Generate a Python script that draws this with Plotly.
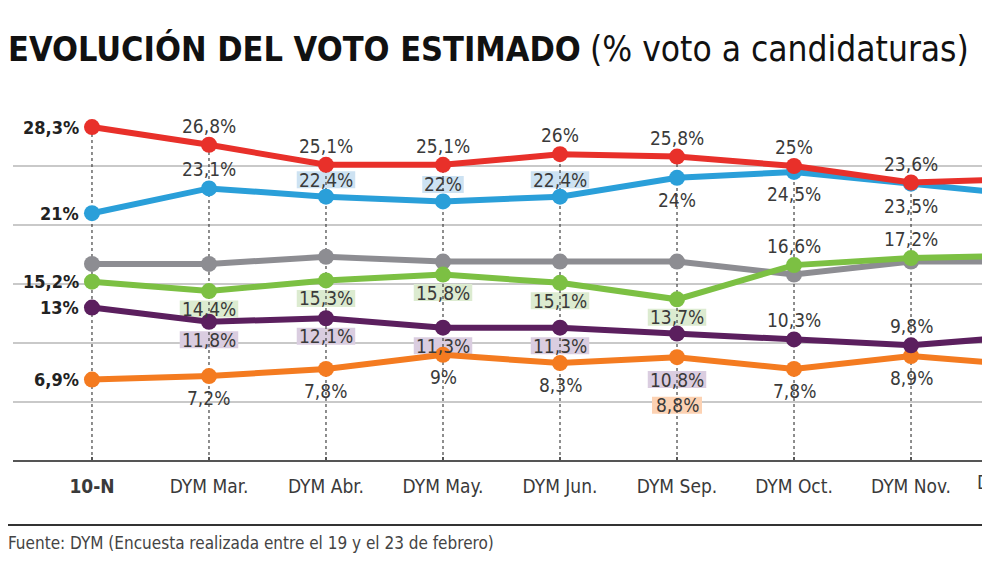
import plotly.graph_objects as go

# ---------------- data ----------------
categories = ["10-N", "DYM Mar.", "DYM Abr.", "DYM May.", "DYM Jun.",
              "DYM Sep.", "DYM Oct.", "DYM Nov.", "DYM Dic."]
red = [28.3, 26.8, 25.1, 25.1, 26.0, 25.8, 25.0, 23.6, 23.9]
blue = [21.0, 23.1, 22.4, 22.0, 22.4, 24.0, 24.5, 23.5, 22.5]
grey = [16.7, 16.7, 17.3, 16.9, 16.9, 16.9, 15.8, 16.9, 16.9]
green = [15.2, 14.4, 15.3, 15.8, 15.1, 13.7, 16.6, 17.2, 17.4]
purple = [13.0, 11.8, 12.1, 11.3, 11.3, 10.8, 10.3, 9.8, 10.6]
orange = [6.9, 7.2, 7.8, 9.0, 8.3, 8.8, 7.8, 8.9, 8.1]
y_ticks = [0, 5, 10, 15, 20, 25, 30]

# ---------------- style ----------------
OFFSET = 8                      # page body margin
W, H = 990 - OFFSET, 568 - 2 * OFFSET
R_PL, R_PR, R_PT, R_PB = 13, 990, 107, 461   # plot area, reference pixels
XR = [-0.675, 7.675]
YR = [0, 30]
FONT = "DejaVu Sans Condensed, DejaVu Sans, sans-serif"
TXT = "#3a3a3a"

series = [
    dict(name="grey", y=grey, color="#8d8d92", box=None,
         pos=["", "", "", "", "", "", "", "", ""]),
    dict(name="orange", y=orange, color="#f47b20", box="#fcd2b3",
         pos=["L", "B", "B", "B", "B", ("b", 48), "B", "B", ""]),
    dict(name="purple", y=purple, color="#5b1f5e", box="#dacde0",
         pos=["L", "b", "b", "b", "b", ("b", 46), "A", "A", ""]),
    dict(name="green", y=green, color="#7cc043", box="#dcebd0",
         pos=["L", "b", "b", "b", "b", "b", "A", "A", ""]),
    dict(name="blue", y=blue, color="#2a9fd9", box="#cde2f2",
         pos=["L", "A", "a", "a", "a", "B", "B", "B", ""]),
    dict(name="red", y=red, color="#e8302a", box=None,
         pos=["L", "A", "A", "A", "A", "A", "A", "A", ""]),
]

OFF = {"A": -19, "a": -17, "B": 22, "b": 18}


def fmt(v):
    return f"{v:g}".replace(".", ",") + "%"


def px_x(px):
    return (px - R_PL) / (R_PR - R_PL)


def px_y(py):
    return (R_PB - py) / (R_PB - R_PT)


fig = go.Figure()

# dashed vertical guides from axis to top marker of each category
all_vals = [s["y"] for s in series]
gx, gy = [], []
for i, c in enumerate(categories):
    top = max(v[i] for v in all_vals)
    gx += [i, i, None]
    gy += [0, top, None]
fig.add_trace(go.Scatter(x=gx, y=gy, mode="lines", hoverinfo="skip",
                         line=dict(color="#444", width=1.2, dash="3px,3px"),
                         showlegend=False))

idx = list(range(len(categories)))
for s in series:
    fig.add_trace(go.Scatter(
        x=idx, y=s["y"], mode="lines+markers", showlegend=False,
        line=dict(color=s["color"], width=6),
        marker=dict(color=s["color"], size=16),
        cliponaxis=True))

annotations = []
shapes = []
for s in series:
    for i, p in enumerate(s["pos"]):
        if not p:
            continue
        v = s["y"][i]
        if p == "L":
            annotations.append(dict(
                x=i, y=v, xref="x", yref="y", text="<b>" + fmt(v) + "</b>",
                showarrow=False, xanchor="right", yanchor="middle", xshift=-11,
                font=dict(family=FONT, size=18, color="#222")))
            continue
        if isinstance(p, tuple):
            kind, dy = p
        else:
            kind, dy = p, OFF[p]
        txt = fmt(v)
        annotations.append(dict(
            x=i, y=v, xref="x", yref="y", text=txt, showarrow=False,
            xanchor="center", yanchor="middle", yshift=-dy,
            font=dict(family=FONT, size=19, color=TXT)))
        if kind in ("a", "b") and s["box"]:
            w = 8.5 * len(txt) + 16
            h = 17
            shapes.append(dict(
                type="rect", xref="x", yref="y", xsizemode="pixel",
                ysizemode="pixel", xanchor=i, yanchor=v,
                x0=-w / 2, x1=w / 2, y0=-dy - h / 2, y1=-dy + h / 2,
                fillcolor=s["box"], line=dict(width=0), layer="between"))

# partial tick label for the category beyond the visible range
last = len(categories) - 1
annotations.append(dict(
    x=px_x(975), y=px_y(482), xref="paper", yref="paper",
    text=categories[last], showarrow=False, xanchor="left", yanchor="middle",
    font=dict(family=FONT, size=19, color=TXT)))

# title
annotations.append(dict(
    x=px_x(6), y=px_y(49), xref="paper", yref="paper",
    text="<b>EVOLUCIÓN DEL VOTO ESTIMADO</b>", showarrow=False,
    xanchor="left", yanchor="middle",
    font=dict(family=FONT, size=34, color="#111")))
annotations.append(dict(
    x=px_x(588), y=px_y(49), xref="paper", yref="paper",
    text="(% voto a candidaturas)", showarrow=False,
    xanchor="left", yanchor="middle",
    font=dict(family=FONT, size=35, color="#111")))

# footer
annotations.append(dict(
    x=px_x(6), y=px_y(543), xref="paper", yref="paper",
    text="Fuente: DYM (Encuesta realizada entre el 19 y el 23 de febrero)",
    showarrow=False, xanchor="left", yanchor="middle",
    font=dict(family=FONT, size=17, color="#444")))
shapes.append(dict(type="line", xref="paper", yref="paper",
                   x0=px_x(8), x1=1.0, y0=px_y(525), y1=px_y(525),
                   line=dict(color="#333", width=2)))

ticktext = ["<b>10-N</b>"] + categories[1:last]
fig.update_layout(
    width=W, height=H,
    margin=dict(l=R_PL - OFFSET, r=0, t=R_PT - OFFSET, b=H - (R_PB - OFFSET),
                pad=0),
    paper_bgcolor="white", plot_bgcolor="white",
    xaxis=dict(range=XR, tickmode="array", tickvals=idx[:last],
               ticktext=ticktext, showgrid=False, zeroline=False,
               ticks="inside", ticklen=4, tickcolor="#555", tickwidth=1.5,
               ticklabelstandoff=12,
               tickfont=dict(family=FONT, size=19, color=TXT),
               showline=False),
    yaxis=dict(range=YR, tickmode="array", tickvals=y_ticks,
               showticklabels=False, showgrid=True, gridcolor="#c9c9c9",
               gridwidth=1.5, zeroline=True, zerolinecolor="#555",
               zerolinewidth=2),
    annotations=annotations, shapes=shapes,
)

fig.write_html("out.html")
